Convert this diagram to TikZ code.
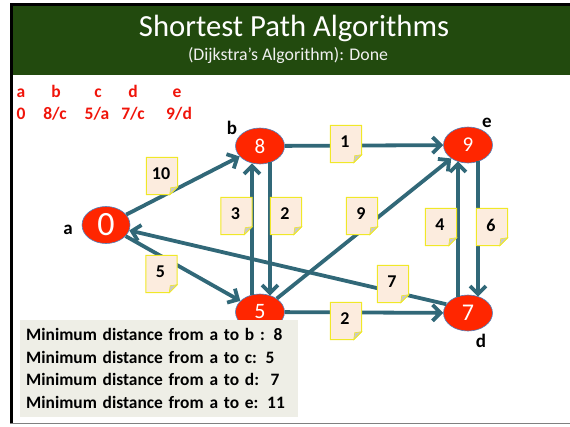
\documentclass[tikz,border=0pt]{standalone}
\usepackage{fontspec}
\setmainfont{Carlito}
\usetikzlibrary{arrows.meta,shapes.geometric}
\definecolor{banner}{RGB}{34,74,14}
\definecolor{nodered}{RGB}{255,38,0}
\definecolor{noderim}{RGB}{79,129,189}
\definecolor{edgecol}{RGB}{49,104,120}
\definecolor{notefill}{RGB}{252,236,222}
\definecolor{noteline}{RGB}{240,232,40}
\definecolor{foldgray}{RGB}{200,200,200}
\definecolor{hdrred}{RGB}{240,20,10}
\definecolor{boxgray}{RGB}{238,238,230}
\tikzset{
  vert/.style={ellipse, fill=nodered, draw=noderim, line width=0.6pt,
    minimum width=49pt, minimum height=36pt, inner sep=0pt, text=white},
  edge/.style={draw=edgecol, line width=3.8pt,
    -{Straight Barb[length=8pt,width=16pt]}},
  notebox/.style={rectangle, minimum width=31pt, minimum height=37pt, inner sep=0pt},
  notetext/.style={font=\bfseries\fontsize{18}{20}\selectfont, text=black},
  vlabel/.style={font=\bfseries\fontsize{19}{22}\selectfont, anchor=base},
  hdr/.style={font=\bfseries\fontsize{17.5}{20}\selectfont, text=hdrred, anchor=base},
}
\newcommand\wnote[3]{%
  \path node[notebox] (#1) at (#2) {};
  \filldraw[fill=notefill, draw=noteline, line width=1pt]
    (#1.north west) -- (#1.north east) -- ([yshift=8pt]#1.south east)
    -- ([xshift=-8pt]#1.south east) -- (#1.south west) -- cycle;
  \filldraw[fill=foldgray, draw=noteline, line width=0.6pt]
    ([yshift=8pt]#1.south east) -- ([xshift=-8pt]#1.south east)
    -- ([xshift=-7pt,yshift=7pt]#1.south east) -- cycle;
  \node[notetext] (#1t) at ([xshift=-1pt,yshift=2pt]#1.center) {#3};
}
\begin{document}
\begin{tikzpicture}[x=1pt,y=-1pt]
\useasboundingbox (0,0) rectangle (570,426);
% banner and frame
\fill[banner] (12,6) rectangle (570,75);
\draw[black, line width=2.6pt] (11.2,423) -- (11.2,4.5) -- (570,4.5);
\draw[gray, line width=1.5pt] (10,423.5) -- (570,423.5);
\node[text=white, font=\fontsize{30.7}{32}\selectfont, anchor=base] (title) at (294,36) {Shortest Path Algorithms};
\node[text=white!88!gray, font=\fontsize{17.8}{20}\selectfont, anchor=base] (subtitle) at (288,60) {(Dijkstra’s Algorithm): Done};
% header table
\node[hdr] (ha) at (21,97) {a};
\node[hdr] (hb) at (56,97) {b};
\node[hdr] (hc) at (98,97) {c};
\node[hdr] (hd) at (133,97) {d};
\node[hdr] (he) at (177,97) {e};
\node[hdr] (va) at (21,119) {0};
\node[hdr] (vb) at (55,119) {8/c};
\node[hdr] (vc) at (97,119) {5/a};
\node[hdr] (vd) at (133,119) {7/c};
\node[hdr] (ve) at (179,119) {9/d};
% vertices
\node[vert, minimum width=48pt, minimum height=37pt, font=\fontsize{34}{34}\selectfont] (a) at (106,225) {0};
\node[vert, font=\fontsize{21}{21}\selectfont] (b) at (260,146) {8};
\node[vert, font=\fontsize{22}{22}\selectfont] (c) at (260,312) {5};
\node[vert, font=\fontsize{24}{24}\selectfont] (d) at (468,313) {7};
\node[vert, font=\fontsize{21}{21}\selectfont] (e) at (468,145) {9};
\node[vlabel] (la) at (68,234) {a};
\node[vlabel] (lb) at (232,134) {b};
\node[vlabel] (le) at (487,127) {e};
\node[vlabel] (ld) at (481,347) {d};
% edges
\draw[edge] (a) -- (b);
\draw[edge] (a) -- (c);
\draw[edge] (b) -- (e);
\draw[edge] (c) -- (d);
\draw[edge] (c) -- (e);
\draw[edge] (d.158) -- (a);
\draw[edge] ([xshift=-8pt,yshift=-1pt]c.north) -- ([xshift=-8pt,yshift=1pt]b.south);
\draw[edge] ([xshift=10pt,yshift=2pt]b.south) -- ([xshift=10pt,yshift=-2pt]c.north);
\draw[edge] ([xshift=-10pt,yshift=-2pt]d.north) -- ([xshift=-10pt,yshift=2pt]e.south);
\draw[edge] ([xshift=10pt,yshift=2pt]e.south) -- ([xshift=10pt,yshift=-2pt]d.north);
% weight notes
\wnote{w10}{162,176}{10}
\wnote{w5}{161.5,274}{5}
\wnote{w3}{236.5,216}{3}
\wnote{w2a}{286,216}{2}
\wnote{w9}{362,216}{9}
\wnote{w1}{346,144}{1}
\wnote{w4}{441,227}{4}
\wnote{w6}{492,227}{6}
\wnote{w7}{393,284}{7}
\wnote{w2b}{346,321}{2}
% summary
\node[fill=boxgray, anchor=north west, text width=266pt, inner xsep=6pt, inner ysep=4pt,
  minimum height=97pt, align=left, font=\bfseries\fontsize{17.4}{22.5}\selectfont] (summary) at (20,320)
  {Minimum distance from a to b : 8\\
   Minimum distance from a to c: 5\\
   Minimum distance from a to d:\ \ 7\\
   Minimum distance from a to e: 11};
\end{tikzpicture}
\end{document}
